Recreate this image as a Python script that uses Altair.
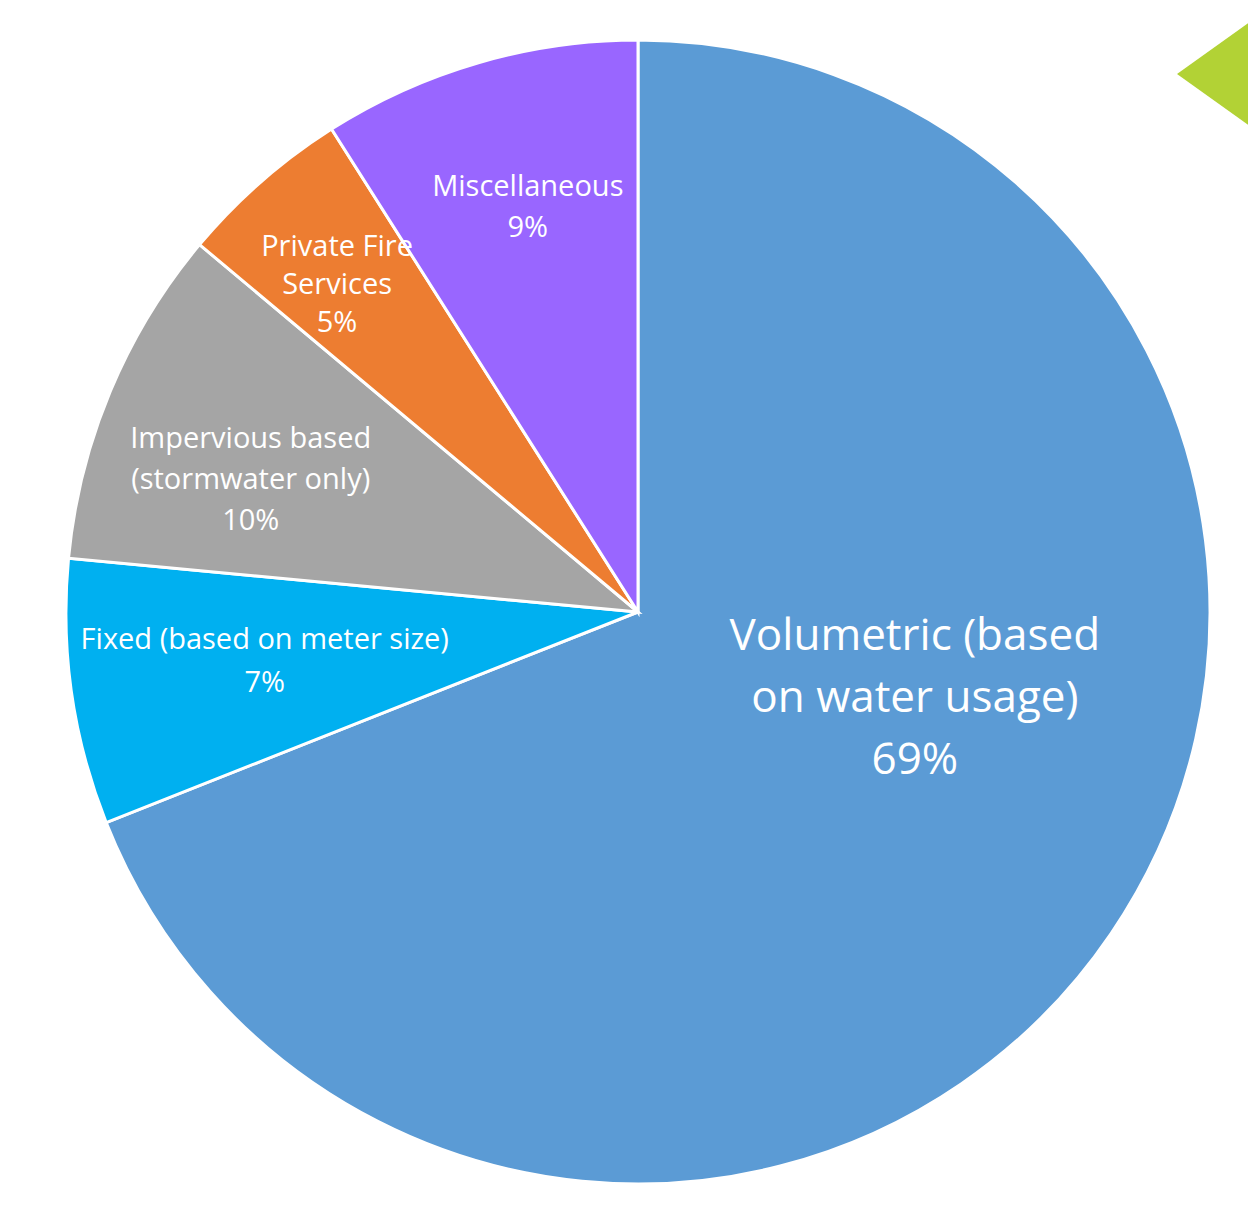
import altair as alt
import pandas as pd

categories = [
    "Volumetric (based on water usage)",
    "Fixed (based on meter size)",
    "Impervious based (stormwater only)",
    "Private Fire Services",
    "Miscellaneous",
]
label_lines = [
    "Volumetric (based\non water usage)",
    "Fixed (based on meter size)",
    "Impervious based\n(stormwater only)",
    "Private Fire\nServices",
    "Miscellaneous",
]
values = [69.0, 7.5, 9.6, 4.9, 9.0]
colors = ["#5B9BD5", "#00B0F0", "#A5A5A5", "#ED7D31", "#9966FF"]

df = pd.DataFrame({
    "cat": categories,
    "name": label_lines,
    "value": values,
    "order": list(range(len(categories))),
})

CX, CY, R = 630, 604, 572
theta_scale = alt.Scale(domain=[0, 100])

base = (
    alt.Chart(df)
    .transform_window(v1="sum(value)", sort=[{"field": "order"}], frame=[None, 0])
    .transform_calculate(
        v0="datum.v1 - datum.value",
        mid="datum.v1 - datum.value / 2",
        label="datum.name + '\\n' + format(floor(datum.value + 0.5 - 0.001), 'd') + '%'",
    )
)

arcs = base.mark_arc(radius=R, stroke="white", strokeWidth=3).encode(
    theta=alt.Theta("v0:Q", scale=theta_scale),
    theta2="v1:Q",
    color=alt.Color("cat:N", scale=alt.Scale(domain=categories, range=colors), legend=None),
    order=alt.Order("order:Q"),
    x=alt.value(CX),
    y=alt.value(CY),
)

# label placement: (category, radius, dx, dy, font size, line height)
label_style = [
    (categories[0], 290, 37, -138, 44, 62),
    (categories[1], 375, -2, -25, 29, 43),
    (categories[2], 410, -9, -15, 29, 41),
    (categories[3], 440, -11, -34, 29, 38),
    (categories[4], 420, 7, -22, 29, 41),
]

layers = [arcs]
for cat, rad, dx, dy, fs, lh in label_style:
    layers.append(
        base.transform_filter(alt.datum.cat == cat)
        .mark_text(
            radius=rad, dx=dx, dy=dy, fontSize=fs, lineHeight=lh,
            lineBreak="\n", color="white", font="Open Sans",
            align="center", baseline="middle",
        )
        .encode(
            theta=alt.Theta("mid:Q", scale=theta_scale),
            text="label:N",
            x=alt.value(CX),
            y=alt.value(CY),
        )
    )

tri = alt.Chart(pd.DataFrame({"k": [0]})).mark_point(
    shape="M -1 0 L 1 -1.43 L 1 1.43 Z", filled=True, fill="#B2D235",
    opacity=1, strokeWidth=0, size=6241,
).encode(x=alt.value(1208.5), y=alt.value(66))
layers.append(tri)

chart = (
    alt.layer(*layers)
    .properties(
        width=1240, height=1200, padding=0,
        autosize=alt.AutoSizeParams(type="fit", contains="padding"),
        background="white",
    )
    .configure_view(stroke=None)
)

chart.save("out.html", embed_options={"renderer": "svg", "actions": False})
